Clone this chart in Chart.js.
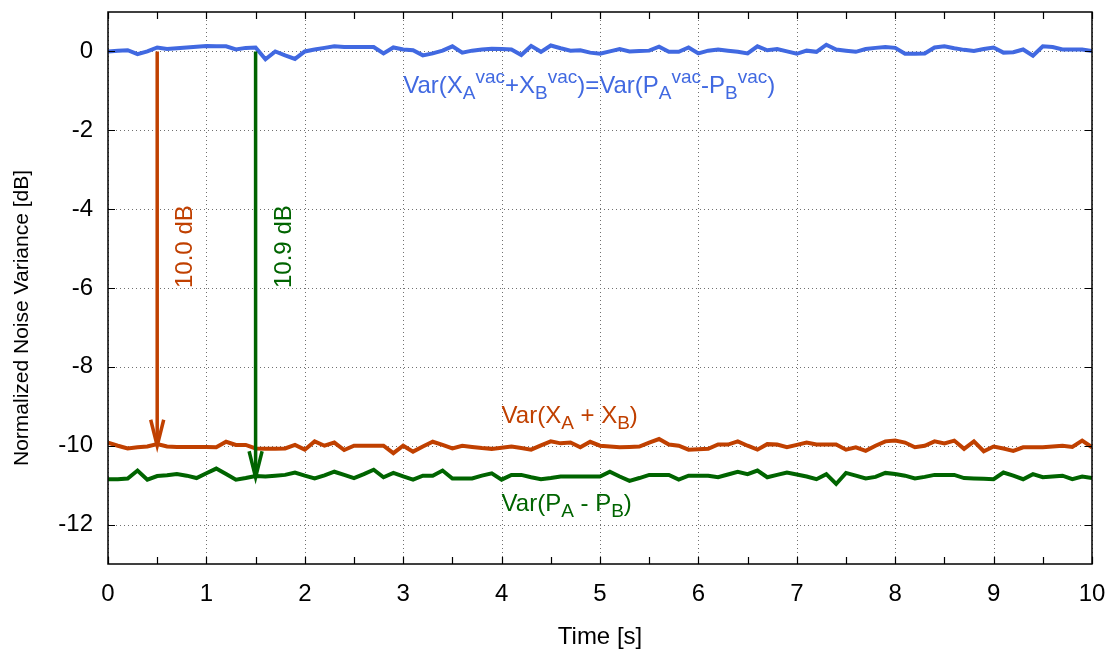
<!DOCTYPE html>
<html>
<head>
<meta charset="utf-8">
<script src="https://cdn.jsdelivr.net/npm/chart.js@4/dist/chart.umd.min.js"></script>
<style>
  html, body { margin: 0; padding: 0; background: #fff; }
  #wrap { width: 1113px; height: 655px; position: relative; }
</style>
</head>
<body>
<div id="wrap"><canvas id="c"></canvas></div>
<script>
// ---- data ----
const times = [0,0.1,0.2,0.3,0.4,0.5,0.6,0.7,0.8,0.9,1,1.1,1.2,1.3,1.4,1.5,1.6,1.7,1.8,1.9,2,2.1,2.2,2.3,2.4,2.5,2.6,2.7,2.8,2.9,3,3.1,3.2,3.3,3.4,3.5,3.6,3.7,3.8,3.9,4,4.1,4.2,4.3,4.4,4.5,4.6,4.7,4.8,4.9,5,5.1,5.2,5.3,5.4,5.5,5.6,5.7,5.8,5.9,6,6.1,6.2,6.3,6.4,6.5,6.6,6.7,6.8,6.9,7,7.1,7.2,7.3,7.4,7.5,7.6,7.7,7.8,7.9,8,8.1,8.2,8.3,8.4,8.5,8.6,8.7,8.8,8.9,9,9.1,9.2,9.3,9.4,9.5,9.6,9.7,9.8,9.9,10];

const vacuumNoise = [
  0.00,0.02,0.03,-0.07,0.00,0.10,0.06,0.08,0.10,0.12,
  0.14,0.13,0.13,0.05,0.09,0.10,-0.20,0.00,-0.10,-0.19,
  0.00,0.05,0.09,0.13,0.11,0.11,0.11,0.11,-0.05,0.10,
  0.05,0.03,-0.10,-0.05,0.02,0.13,-0.03,0.02,0.05,0.07,
  0.06,0.05,-0.09,0.14,-0.01,0.15,0.08,0.02,0.03,-0.03,
  -0.06,0.00,0.06,0.00,0.01,0.02,0.12,-0.01,-0.01,0.10,
  -0.05,0.02,0.05,0.02,-0.01,-0.05,0.13,0.03,0.06,0.00,
  -0.06,0.02,-0.01,0.17,0.05,0.02,-0.01,0.06,0.09,0.11,
  0.09,-0.06,-0.06,-0.05,0.10,0.13,0.08,0.04,0.01,0.06,
  0.10,-0.03,-0.02,0.05,-0.11,0.13,0.11,0.05,0.05,0.05,
  0.01];

const varXsum = [
  -9.92,-10.00,-10.07,-10.04,-10.02,-9.96,-10.02,-10.03,-10.03,-10.03,
  -10.03,-10.04,-9.90,-9.98,-9.98,-10.07,-10.08,-10.08,-10.07,-9.98,
  -10.10,-9.89,-10.00,-9.92,-10.11,-10.00,-10.00,-10.00,-10.00,-10.19,
  -10.00,-10.15,-10.02,-9.90,-9.98,-10.07,-10.00,-10.03,-10.06,-10.08,
  -10.05,-10.02,-10.06,-10.10,-9.99,-9.89,-9.94,-9.92,-10.04,-9.90,
  -10.00,-10.02,-10.04,-10.03,-10.02,-9.92,-9.83,-9.97,-10.00,-10.10,
  -10.09,-10.08,-9.97,-9.97,-9.89,-10.00,-10.10,-9.96,-9.97,-10.04,
  -9.98,-9.92,-9.97,-9.97,-9.97,-10.10,-10.04,-10.13,-10.00,-9.89,
  -9.87,-9.92,-10.04,-10.00,-9.89,-9.94,-9.87,-10.08,-9.89,-10.14,
  -10.02,-10.07,-10.13,-10.04,-10.04,-10.04,-10.02,-10.00,-10.03,-9.87,
  -10.04];

const varPdiff = [
  -10.85,-10.85,-10.83,-10.63,-10.86,-10.77,-10.75,-10.72,-10.76,-10.82,
  -10.70,-10.58,-10.72,-10.86,-10.82,-10.77,-10.78,-10.76,-10.74,-10.68,
  -10.76,-10.83,-10.75,-10.66,-10.74,-10.82,-10.72,-10.61,-10.80,-10.69,
  -10.78,-10.86,-10.76,-10.76,-10.63,-10.83,-10.83,-10.83,-10.76,-10.70,
  -10.86,-10.74,-10.74,-10.80,-10.85,-10.82,-10.78,-10.78,-10.78,-10.78,
  -10.78,-10.66,-10.78,-10.89,-10.82,-10.74,-10.74,-10.74,-10.86,-10.76,
  -10.76,-10.76,-10.80,-10.73,-10.66,-10.72,-10.63,-10.80,-10.74,-10.68,
  -10.73,-10.78,-10.85,-10.72,-10.97,-10.69,-10.76,-10.83,-10.79,-10.69,
  -10.72,-10.76,-10.83,-10.79,-10.74,-10.74,-10.74,-10.82,-10.83,-10.84,
  -10.85,-10.68,-10.76,-10.85,-10.72,-10.80,-10.78,-10.76,-10.85,-10.78,
  -10.82];

const xTickValues = [0,1,2,3,4,5,6,7,8,9,10];
const xMinorTickValues = [0.5,1.5,2.5,3.5,4.5,5.5,6.5,7.5,8.5,9.5];
const yTickValues = [-12,-10,-8,-6,-4,-2,0];

// arrows: x position, start value, end value, label
const arrowX = [0.5, 1.5];
const arrowFrom = [0, 0];
const arrowTo = [-10.0, -10.8];
const arrowLabels = ['10.0 dB', '10.9 dB'];

const yTitle = 'Normalized Noise Variance [dB]';

// ---- styling ----
const FONT = '"Liberation Sans", Arial, Helvetica, sans-serif';
const C_BLUE = '#4169e1';
const C_ORANGE = '#c04000';
const C_GREEN = '#006400';
const colors = [C_ORANGE, C_GREEN];

function pts(ys) { return times.map((t, i) => ({x: t, y: ys[i]})); }

// rich text segments: n = normal, b = subscript, p = superscript
const blueLabel = [['Var(X','n'],['A','b'],['vac','p'],['+X','n'],['B','b'],['vac','p'],[')=Var(P','n'],['A','b'],['vac','p'],['-P','n'],['B','b'],['vac','p'],[')','n']];
const orangeLabel = [['Var(X','n'],['A','b'],[' + X','n'],['B','b'],[')','n']];
const greenLabel = [['Var(P','n'],['A','b'],[' - P','n'],['B','b'],[')','n']];
const seriesLabels = [
  {segs: blueLabel, x: 3.0, y: -1.06, color: C_BLUE},
  {segs: orangeLabel, x: 4.0, y: -9.42, color: C_ORANGE},
  {segs: greenLabel, x: 4.0, y: -11.65, color: C_GREEN}
];

function drawRich(ctx, segs, x, y, color) {
  const N = 24, S = 19;
  ctx.fillStyle = color;
  ctx.textBaseline = 'alphabetic';
  ctx.textAlign = 'left';
  let cx = x;
  for (const [t, k] of segs) {
    if (k === 'n') {
      ctx.font = N + 'px ' + FONT;
      ctx.fillText(t, cx, y);
    } else if (k === 'b') {
      ctx.font = S + 'px ' + FONT;
      ctx.fillText(t, cx, y + 6);
    } else {
      ctx.font = S + 'px ' + FONT;
      ctx.fillText(t, cx, y - 10);
    }
    cx += ctx.measureText(t).width;
  }
}

const framePlugin = {
  id: 'frame',
  beforeDatasetsDraw(chart) {
    const {ctx, chartArea: a, scales: {x, y}} = chart;
    ctx.save();
    ctx.strokeStyle = '#707070';
    ctx.lineWidth = 1;
    ctx.setLineDash([1, 3]);
    for (const v of xTickValues) {
      const px = Math.round(x.getPixelForValue(v)) + 0.5;
      ctx.beginPath(); ctx.moveTo(px, a.top); ctx.lineTo(px, a.bottom); ctx.stroke();
    }
    for (const v of yTickValues) {
      const py = Math.round(y.getPixelForValue(v)) + 0.5;
      ctx.beginPath(); ctx.moveTo(a.left, py); ctx.lineTo(a.right, py); ctx.stroke();
    }
    ctx.restore();
  },
  afterDatasetsDraw(chart) {
    const {ctx, chartArea: a, scales: {x, y}} = chart;
    ctx.save();
    ctx.setLineDash([]);
    ctx.lineCap = 'butt';
    ctx.lineJoin = 'miter';
    arrowX.forEach((ax, i) => {
      const px = x.getPixelForValue(ax);
      const p0 = y.getPixelForValue(arrowFrom[i]);
      const p1 = y.getPixelForValue(arrowTo[i]);
      ctx.strokeStyle = colors[i];
      ctx.lineWidth = 3.5;
      ctx.beginPath(); ctx.moveTo(px, p0); ctx.lineTo(px, p1 - 2); ctx.stroke();
      ctx.beginPath();
      ctx.moveTo(px - 6.5, p1 - 26);
      ctx.lineTo(px, p1);
      ctx.lineTo(px + 6.5, p1 - 26);
      ctx.stroke();
      ctx.save();
      ctx.translate(px + 35, y.getPixelForValue(-6.0));
      ctx.rotate(-Math.PI / 2);
      ctx.fillStyle = colors[i];
      ctx.font = '24px ' + FONT;
      ctx.textAlign = 'left';
      ctx.textBaseline = 'alphabetic';
      ctx.fillText(arrowLabels[i], 0, 0);
      ctx.restore();
    });
    for (const L of seriesLabels) {
      drawRich(ctx, L.segs, x.getPixelForValue(L.x), y.getPixelForValue(L.y), L.color);
    }
    // frame
    ctx.strokeStyle = '#000';
    ctx.lineWidth = 1.5;
    ctx.strokeRect(a.left, a.top, a.right - a.left, a.bottom - a.top);
    ctx.lineWidth = 1.2;
    const tickLen = 7;
    for (const v of xTickValues.concat(xMinorTickValues)) {
      const px = Math.round(x.getPixelForValue(v)) + 0.5;
      ctx.beginPath();
      ctx.moveTo(px, a.bottom); ctx.lineTo(px, a.bottom - tickLen);
      ctx.moveTo(px, a.top); ctx.lineTo(px, a.top + tickLen);
      ctx.stroke();
    }
    for (const v of yTickValues) {
      const py = Math.round(y.getPixelForValue(v)) + 0.5;
      ctx.beginPath();
      ctx.moveTo(a.left, py); ctx.lineTo(a.left + tickLen, py);
      ctx.moveTo(a.right, py); ctx.lineTo(a.right - tickLen, py);
      ctx.stroke();
    }
    // y axis title
    ctx.save();
    ctx.translate(22, 318);
    ctx.rotate(-Math.PI / 2);
    ctx.fillStyle = '#000';
    ctx.font = '21px ' + FONT;
    ctx.textAlign = 'center';
    ctx.textBaseline = 'middle';
    ctx.fillText(yTitle, 0, 0);
    ctx.restore();
    ctx.restore();
  }
};

function noPad(s) { s.paddingTop = 0; s.paddingBottom = 0; s.paddingLeft = 0; s.paddingRight = 0; }

new Chart(document.getElementById('c'), {
  type: 'line',
  data: {
    datasets: [
      {label: 'vacuum', data: pts(vacuumNoise), borderColor: C_BLUE, borderWidth: 4, pointRadius: 0, tension: 0},
      {label: 'Var(XA+XB)', data: pts(varXsum), borderColor: C_ORANGE, borderWidth: 4, pointRadius: 0, tension: 0},
      {label: 'Var(PA-PB)', data: pts(varPdiff), borderColor: C_GREEN, borderWidth: 4, pointRadius: 0, tension: 0}
    ]
  },
  options: {
    responsive: true,
    maintainAspectRatio: false,
    animation: false,
    devicePixelRatio: 1,
    layout: {padding: {top: 12, right: 21, left: 0, bottom: 0}},
    plugins: {legend: {display: false}, tooltip: {enabled: false}},
    scales: {
      x: {
        type: 'linear', min: 0, max: 10,
        grid: {display: false, drawTicks: false},
        border: {display: false},
        afterBuildTicks: (s) => { s.ticks = xTickValues.map(v => ({value: v})); },
        afterFit: (s) => { s.height = 91; noPad(s); },
        ticks: {color: '#000', font: {family: FONT, size: 24}, padding: 16, autoSkip: false, maxRotation: 0},
        title: {display: true, text: 'Time [s]', color: '#000', font: {family: FONT, size: 24}, padding: {top: 0, bottom: 3}}
      },
      y: {
        type: 'linear', min: -13, max: 1,
        grid: {display: false, drawTicks: false},
        border: {display: false},
        afterBuildTicks: (s) => { s.ticks = yTickValues.map(v => ({value: v})); },
        afterFit: (s) => { s.width = 108; noPad(s); },
        ticks: {color: '#000', font: {family: FONT, size: 24}, padding: 15, autoSkip: false},
        title: {display: false}
      }
    }
  },
  plugins: [framePlugin]
});
</script>
</body>
</html>
